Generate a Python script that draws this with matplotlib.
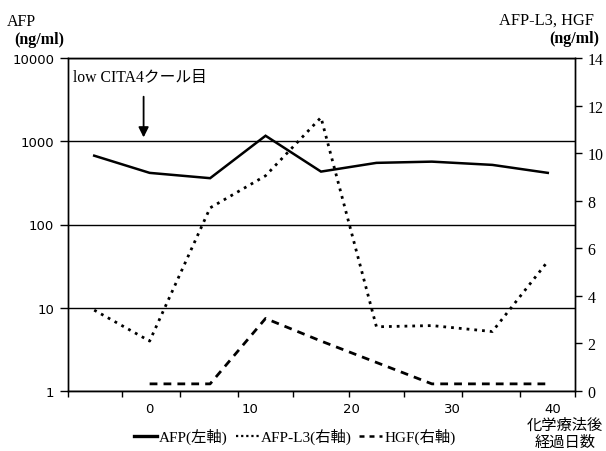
import numpy as np
import matplotlib.pyplot as plt
from matplotlib.ticker import FixedLocator, NullLocator, FixedFormatter, NullFormatter

plt.rcParams['font.family'] = ['Liberation Serif', 'Noto Sans CJK JP']

# 化学療法後経過日数と各マーカー値
days = [-5.5, 0, 6, 11.5, 17, 22.5, 28, 34, 39.5]
afp = [671, 417, 360, 1164, 432, 550, 569, 520, 417]            # ng/ml, 左軸
afp_l3 = [3.4, 2.1, 7.7, 9.05, 11.5, 2.7, 2.75, 2.5, 5.45]      # 右軸
hgf = [np.nan, 0.3, 0.3, 3.05, 2.1, 1.2, 0.3, 0.3, 0.3]         # 右軸

day_labels = [0, 10, 20, 30, 40]
left_ticks = [1, 10, 100, 1000, 10000]
right_ticks = [0, 2, 4, 6, 8, 10, 12, 14]

fig = plt.figure(figsize=(6.06, 4.52), dpi=100)
ax = fig.add_axes([68 / 606, 60 / 452, 507 / 606, 333 / 452])
ax2 = ax.twinx()

# AFP (log)
ax.set_yscale('log')
ax.set_ylim(1, 10000)
ax.set_xlim(-8.1, 42.2)
ax.plot(days, afp, color='black', lw=1.8, solid_joinstyle='miter', zorder=3)
ax.yaxis.set_major_locator(FixedLocator(left_ticks))
ax.yaxis.set_major_formatter(FixedFormatter([str(v) for v in left_ticks]))
ax.yaxis.set_minor_locator(NullLocator())
ax.tick_params(axis='y', direction='out', length=6, width=1, pad=4,
               labelsize=9.5, labelfontfamily='DejaVu Sans')
ax.grid(axis='y', color='black', lw=1)

# x軸: 区切り目盛りはデータ点の中間, ラベルは日数
mids = [(a + b) / 2 for a, b in zip(days[:-1], days[1:])]
ax.xaxis.set_major_locator(FixedLocator(day_labels))
ax.xaxis.set_minor_locator(FixedLocator([-8.1] + mids + [42.2]))
ax.xaxis.set_minor_formatter(NullFormatter())
ax.tick_params(axis='x', which='major', length=0, pad=8,
               labelsize=9.5, labelfontfamily='DejaVu Sans')
ax.tick_params(axis='x', which='minor', direction='out', length=4, width=1)

# AFP-L3, HGF (linear)
ax2.set_ylim(0, 14)
ax2.plot(days, afp_l3, color='black', lw=2, linestyle=(0, (1, 1.8)))
ax2.plot(days, hgf, color='black', lw=2, linestyle=(0, (2.8, 2.2)))
ax2.set_yticks(right_ticks)
ax2.tick_params(axis='y', direction='out', length=5, width=1, pad=4, labelsize=11.5)

for a in (ax, ax2):
    for s in a.spines.values():
        s.set_linewidth(1)
        s.set_color('black')

# 投与時期
ax.annotate('', xy=(-0.6, 1112), xytext=(-0.6, 3430),
            arrowprops=dict(arrowstyle='-|>', color='black', lw=1.3,
                            mutation_scale=15, shrinkA=0, shrinkB=0))
ax.text(0.01, 0.943, 'low CITA4クール目', transform=ax.transAxes,
        fontsize=11.3, va='center', ha='left')

# 軸タイトル
fig.text(7 / 606, 1 - 22 / 452, 'AFP', fontsize=11.5, va='center', ha='left')
fig.text(14 / 606, 1 - 40 / 452, '(ng/ml)', fontsize=11.5, fontweight='bold',
         va='center', ha='left')
fig.text(594 / 606, 1 - 21 / 452, 'AFP-L3, HGF', fontsize=11.8, va='center', ha='right')
fig.text(599 / 606, 1 - 39 / 452, '(ng/ml)', fontsize=11.5, fontweight='bold',
         va='center', ha='right')
fig.text(565 / 606, 1 - 434 / 452, '化学療法後\n経過日数', fontsize=11,
         family=['Noto Sans CJK JP'], va='center', ha='center', linespacing=1.0)

# 凡例
handles = [
    plt.Line2D([], [], color='black', lw=2.4),
    plt.Line2D([], [], color='black', lw=1.6, linestyle=(0, (1, 1.3))),
    plt.Line2D([], [], color='black', lw=1.8, linestyle=(0, (2, 2))),
]
labels = ['AFP(左軸)', 'AFP-L3(右軸)', 'HGF(右軸)']
fig.legend(handles, labels, loc='center', bbox_to_anchor=(295 / 606, 1 - 437 / 452),
           ncol=3, frameon=False, fontsize=11, handlelength=1.5,
           handletextpad=0.15, columnspacing=0.5)

fig.savefig('out.png', dpi=100)
